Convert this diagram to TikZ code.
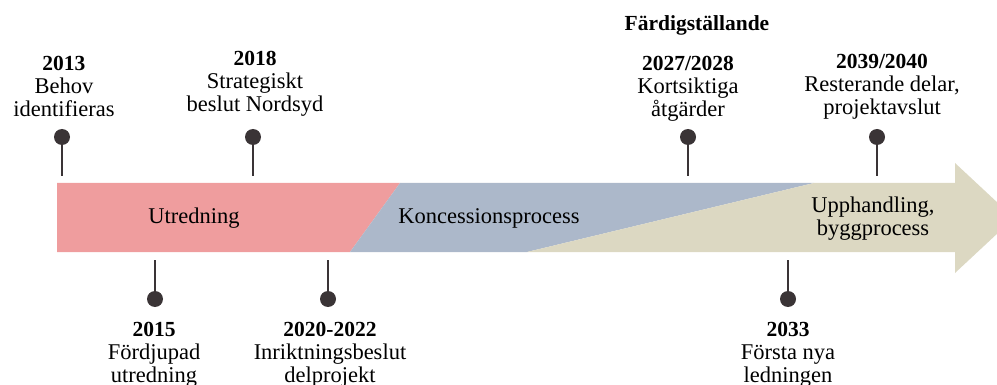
\documentclass[tikz,border=0pt]{standalone}
\usepackage{fontspec}
\setmainfont{Liberation Serif}
\usepackage{tikz}

\definecolor{utredcol}{HTML}{EF9D9E}
\definecolor{konccol}{HTML}{ACB8CA}
\definecolor{byggcol}{HTML}{DCD8C2}
\definecolor{pincol}{HTML}{3A3436}

\newcommand{\yr}[1]{{\fontsize{21.5}{23}\selectfont\bfseries #1}}

\begin{document}
\begin{tikzpicture}[x=1pt, y=-1pt,
    mdot/.style={circle, fill=pincol, inner sep=0pt, minimum size=16pt},
    stem/.style={draw=pincol, line width=1.6pt},
    lbl/.style={align=center, inner sep=0pt, font=\fontsize{22.5}{23}\selectfont}]

    \useasboundingbox (0,0) rectangle (997,385);

    % faserna i pilen
    \fill[utredcol] (57,183) -- (400,183) -- (350,252) -- (57,252) -- cycle;
    \fill[konccol] (400,183) -- (814,183) -- (527,252) -- (350,252) -- cycle;
    \fill[byggcol] (814,183) -- (955,183) -- (955,163) -- (1014,218)
        -- (955,273) -- (955,252) -- (527,252) -- cycle;

    \node[lbl] (utredning) at (194,218) {Utredning};
    \node[lbl] (konc) at (489,218) {Koncessionsprocess};
    \node[lbl] (bygg) at (873,219) {Upphandling,\\byggprocess};

    % milstolpar ovanfor och under pilen
    \foreach \x/\n in {62/a, 253/b, 688/c, 877/d} {
        \node[mdot] (top\n) at (\x,137) {};
        \coordinate (topend\n) at (\x,176);
        \draw[stem] (top\n) -- (topend\n);
    }
    \foreach \x/\n in {155/a, 328/b, 788/c} {
        \node[mdot] (bot\n) at (\x,299) {};
        \coordinate (botend\n) at (\x,260);
        \draw[stem] (bot\n) -- (botend\n);
    }

    \node[lbl, anchor=north] (t2013) at (64,56) {\yr{2013}\\Behov\\identifieras};
    \node[lbl, anchor=north] (t2018) at (255,51) {\yr{2018}\\Strategiskt\\beslut Nordsyd};
    \node[lbl, anchor=north] (t2027) at (688,56) {\yr{2027/2028}\\Kortsiktiga\\åtgärder};
    \node[lbl, anchor=north] (t2039) at (882,54) {\yr{2039/2040}\\Resterande delar,\\projektavslut};
    \node[lbl] (fard) at (697,25) {\yr{Färdigställande}};

    \node[lbl, anchor=north] (t2015) at (154,322) {\yr{2015}\\Fördjupad\\utredning};
    \node[lbl, anchor=north] (t2020) at (330,322) {\yr{2020-2022}\\Inriktningsbeslut\\delprojekt};
    \node[lbl, anchor=north] (t2033) at (788,322) {\yr{2033}\\Första nya\\ledningen};
\end{tikzpicture}
\end{document}
